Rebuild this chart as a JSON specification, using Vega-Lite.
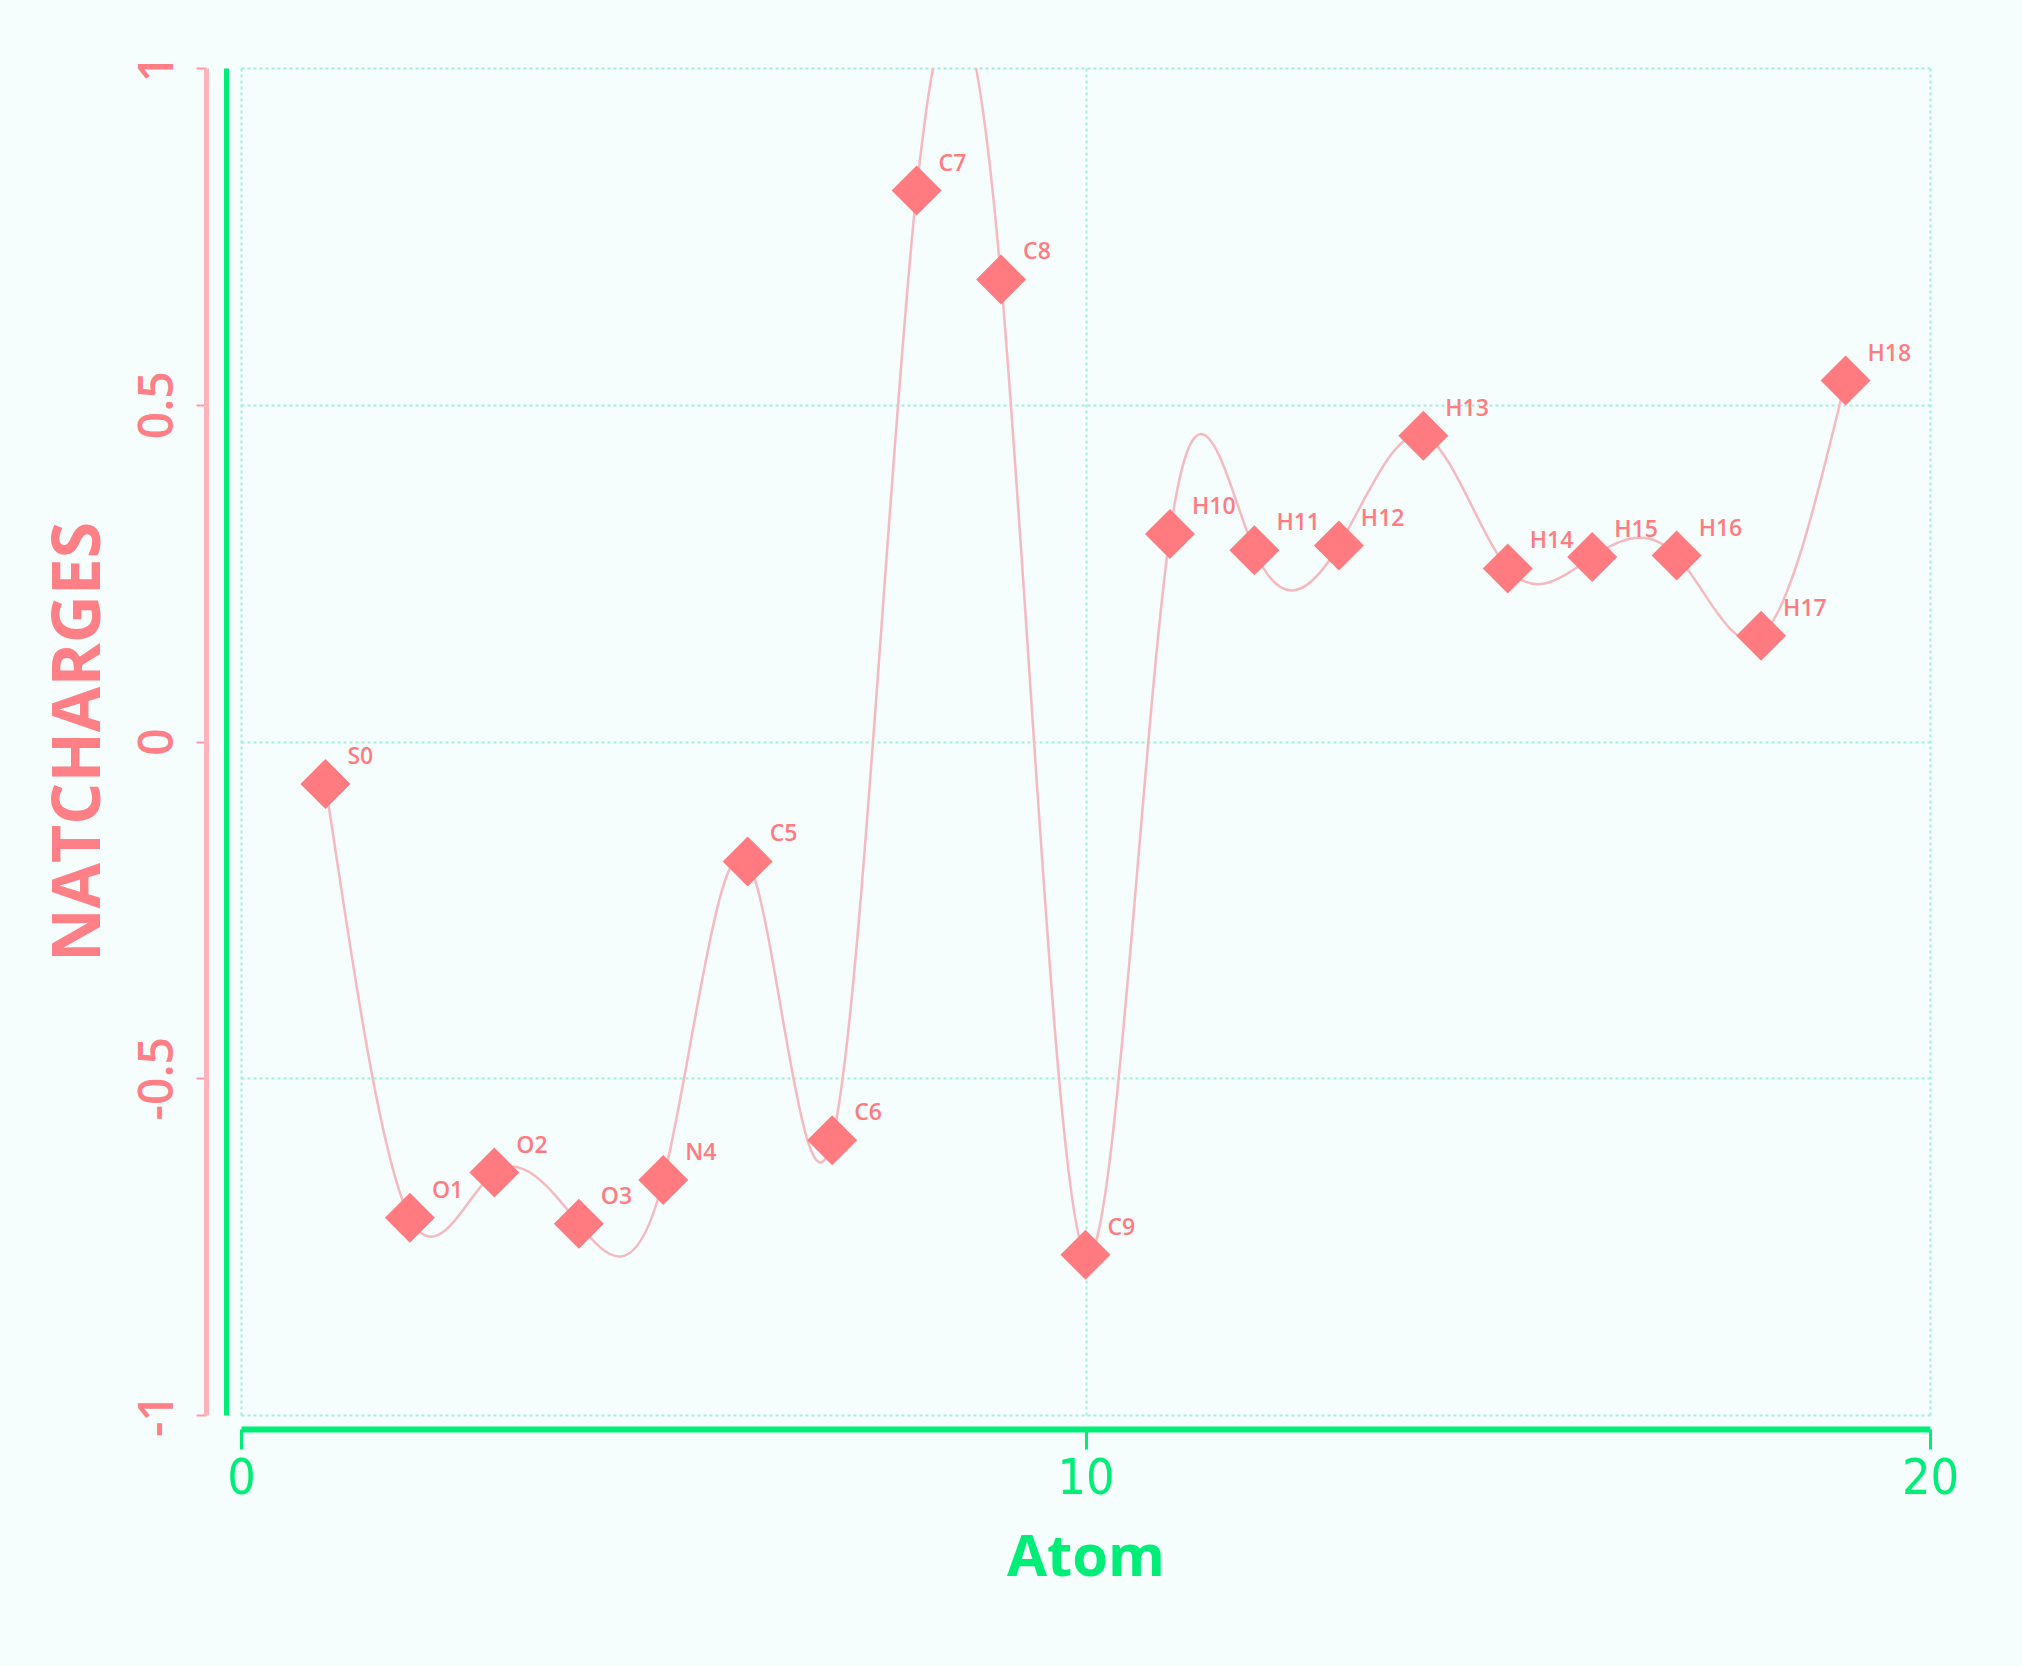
{
  "$schema": "https://vega.github.io/schema/vega-lite/v6.json",
  "width": 1689,
  "height": 1347,
  "autosize": {"type": "none"},
  "padding": {"left": 241, "top": 68, "right": 92, "bottom": 251},
  "background": "#F5FDFD",
  "config": {
    "view": {"stroke": null, "fill": "#F5FDFD"}
  },
  "data": {
    "values": [
      {"atom": 1, "charge": -0.063, "label": "S0"},
      {"atom": 2, "charge": -0.707, "label": "O1"},
      {"atom": 3, "charge": -0.640, "label": "O2"},
      {"atom": 4, "charge": -0.716, "label": "O3"},
      {"atom": 5, "charge": -0.651, "label": "N4"},
      {"atom": 6, "charge": -0.178, "label": "C5"},
      {"atom": 7, "charge": -0.592, "label": "C6"},
      {"atom": 8, "charge": 0.818, "label": "C7"},
      {"atom": 9, "charge": 0.686, "label": "C8"},
      {"atom": 10, "charge": -0.762, "label": "C9"},
      {"atom": 11, "charge": 0.308, "label": "H10"},
      {"atom": 12, "charge": 0.284, "label": "H11"},
      {"atom": 13, "charge": 0.291, "label": "H12"},
      {"atom": 14, "charge": 0.454, "label": "H13"},
      {"atom": 15, "charge": 0.257, "label": "H14"},
      {"atom": 16, "charge": 0.274, "label": "H15"},
      {"atom": 17, "charge": 0.276, "label": "H16"},
      {"atom": 18, "charge": 0.157, "label": "H17"},
      {"atom": 19, "charge": 0.536, "label": "H18"}
    ]
  },
  "resolve": {"axis": {"y": "independent"}},
  "layer": [
    {
      "mark": {"type": "line", "interpolate": "natural", "color": "#F6B9C0", "strokeWidth": 2.5, "clip": true},
      "encoding": {
        "x": {
          "field": "atom", "type": "quantitative",
          "scale": {"domain": [0, 20], "nice": false, "zero": false},
          "axis": {
            "values": [0, 10, 20],
            "orient": "bottom",
            "offset": 14,
            "title": "Atom",
            "titleColor": "#00EE77",
            "titleFont": "Open Sans",
            "titleFontWeight": "bold",
            "titleFontSize": 58,
            "titlePadding": 26,
            "domainColor": "#00EE77",
            "domainWidth": 6,
            "tickColor": "#00EE77",
            "tickWidth": 3,
            "tickSize": 20,
            "labelColor": "#00EE77",
            "labelFont": "DejaVu Sans Condensed, sans-serif",
            "labelFontSize": 50,
            "labelPadding": 4,
            "labelFlush": false,
            "labelExpr": "toString(datum.value)",
            "grid": true,
            "gridColor": "#A6EEDC",
            "gridDash": [3, 3],
            "gridWidth": 2
          }
        },
        "y": {
          "field": "charge", "type": "quantitative",
          "scale": {"domain": [-1, 1], "nice": false, "zero": false},
          "axis": {
            "values": [-1, -0.5, 0, 0.5, 1],
            "orient": "left",
            "offset": 35,
            "title": "NATCHARGES",
            "titleColor": "#FF7F86",
            "titleFont": "Open Sans",
            "titleFontWeight": "bold",
            "titleFontSize": 66,
            "titlePadding": 21,
            "domainColor": "#FFB3BA",
            "domainWidth": 5,
            "tickColor": "#FF9CA3",
            "tickWidth": 2,
            "tickSize": 10,
            "labelColor": "#FF7F86",
            "labelFont": "Open Sans",
            "labelFontWeight": 600,
            "labelFontSize": 48,
            "labelAngle": -90,
            "labelAlign": "center",
            "labelBaseline": "bottom",
            "labelPadding": 14,
            "labelFlush": false,
            "labelExpr": "toString(datum.value)",
            "grid": true,
            "gridColor": "#A6EEDC",
            "gridDash": [3, 3],
            "gridWidth": 2
          }
        }
      }
    },
    {
      "mark": {"type": "point", "shape": "diamond", "filled": true, "size": 2500, "color": "#FF7B80", "opacity": 1},
      "encoding": {
        "x": {"field": "atom", "type": "quantitative"},
        "y": {
          "field": "charge", "type": "quantitative",
          "axis": {
            "orient": "left",
            "offset": 15,
            "labels": false,
            "ticks": false,
            "title": null,
            "grid": false,
            "domainColor": "#00EE77",
            "domainWidth": 5
          }
        }
      }
    },
    {
      "mark": {"type": "text", "align": "left", "baseline": "middle", "dx": 22, "dy": -27, "font": "Open Sans", "fontWeight": 600, "fontSize": 23, "color": "#FF7B80"},
      "encoding": {
        "x": {"field": "atom", "type": "quantitative"},
        "y": {"field": "charge", "type": "quantitative", "axis": null},
        "text": {"field": "label"}
      }
    }
  ]
}
